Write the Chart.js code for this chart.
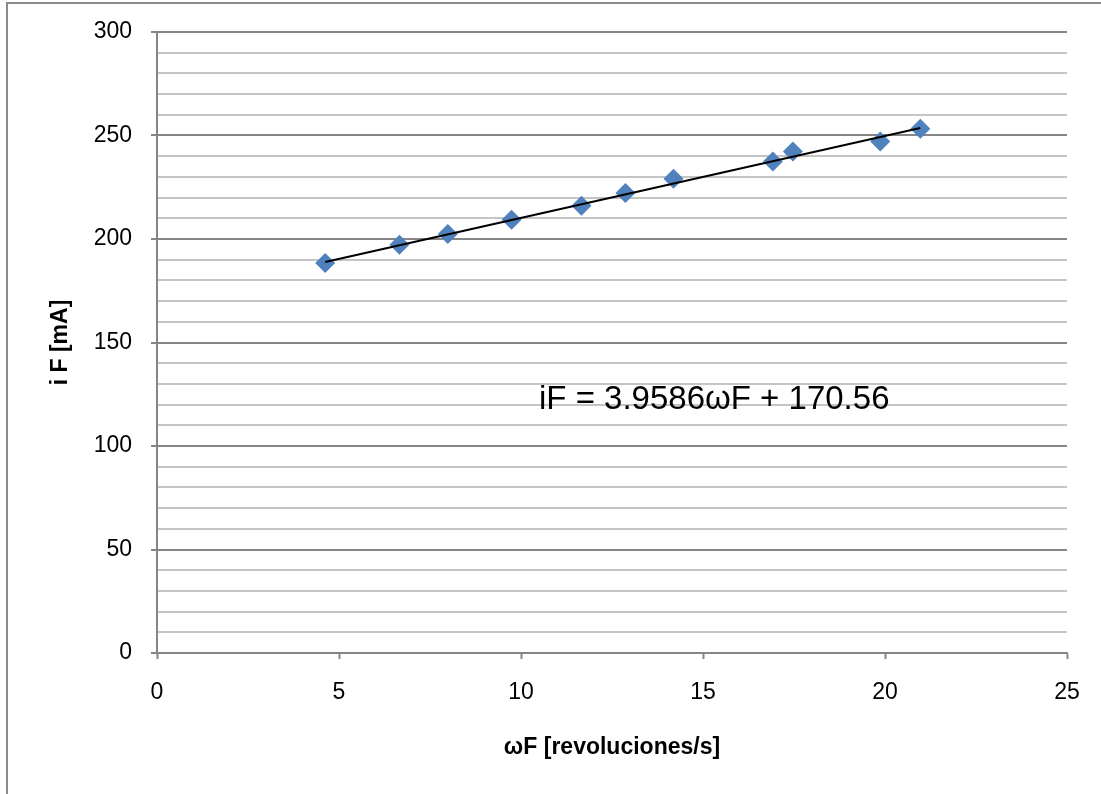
<!DOCTYPE html>
<html>
<head>
<meta charset="utf-8">
<script src="https://cdn.jsdelivr.net/npm/chart.js@4"></script>
<style>
  body { margin: 0; background: #fff; }
  #wrap { width: 1101px; height: 794px; }
</style>
</head>
<body>
<div id="wrap"><canvas id="chart" width="1101" height="794"></canvas></div>
<script>
// measured points, wF [rev/s] vs iF [mA]
const wF = [4.62, 6.66, 7.99, 9.74, 11.66, 12.87, 14.19, 16.92, 17.47, 19.87, 20.97];
const iF = [188.4, 197.2, 202.4, 209.3, 216.1, 222.2, 229.1, 237.5, 242.3, 247.1, 253.3];

// linear trend line ends, as drawn
const trendX = [4.62, 20.97];
const trendY = [188.9, 253.6];

const equationText = 'iF = 3.9586ωF + 170.56';
const xTitle = 'ωF [revoluciones/s]';
const yTitle = 'i F [mA]';

const FONT = '"Liberation Sans", Arial, sans-serif';

const points = wF.map((x, i) => ({ x: x, y: iF[i] }));
const trend = trendX.map((x, i) => ({ x: x, y: trendY[i] }));

const frame = {
    id: 'frame',
    afterDraw(chart) {
        const ctx = chart.ctx;
        ctx.save();
        // outer border (left and top)
        ctx.strokeStyle = '#8c8c8c';
        ctx.lineWidth = 2;
        ctx.beginPath();
        ctx.moveTo(7, 794);
        ctx.lineTo(7, 3);
        ctx.lineTo(1101, 3);
        ctx.stroke();
        // trend line equation
        ctx.fillStyle = '#000';
        ctx.font = '33px ' + FONT;
        ctx.textAlign = 'left';
        ctx.textBaseline = 'alphabetic';
        ctx.fillText(equationText, 539, 409);
        ctx.restore();
    }
};

new Chart(document.getElementById('chart'), {
    type: 'scatter',
    data: {
        datasets: [{
            label: 'iF',
            data: points,
            pointStyle: 'rectRot',
            pointRadius: 10,
            pointHoverRadius: 10,
            backgroundColor: '#4F81BD',
            borderColor: '#4F81BD',
            borderWidth: 0,
            order: 2
        }, {
            label: 'trend',
            type: 'line',
            data: trend,
            borderColor: '#000',
            borderWidth: 2,
            pointRadius: 0,
            fill: false,
            order: 1
        }]
    },
    options: {
        responsive: false,
        animation: false,
        layout: { padding: { left: 0, top: 32, right: 34, bottom: 0 } },
        plugins: {
            legend: { display: false },
            tooltip: { enabled: false }
        },
        scales: {
            x: {
                type: 'linear',
                min: 0,
                max: 25,
                afterFit(scale) {
                    scale.height = 141;
                    scale.paddingLeft = 0;
                    scale.paddingRight = 0;
                },
                ticks: {
                    stepSize: 5,
                    padding: 20,
                    color: '#000',
                    font: { family: FONT, size: 23 }
                },
                grid: {
                    drawOnChartArea: false,
                    drawTicks: true,
                    tickLength: 6,
                    tickColor: '#868686',
                    tickWidth: 2
                },
                border: { display: true, color: '#868686', width: 2 },
                title: {
                    display: true,
                    text: xTitle,
                    color: '#000',
                    font: { family: FONT, size: 23, weight: 'bold' },
                    padding: { top: 0, bottom: 33 }
                }
            },
            y: {
                min: 0,
                max: 300,
                afterFit(scale) {
                    scale.width = 157;
                    scale.paddingTop = 0;
                    scale.paddingBottom = 0;
                },
                ticks: {
                    stepSize: 10,
                    autoSkip: false,
                    padding: 19,
                    color: '#000',
                    font: { family: FONT, size: 23 },
                    callback: v => (v % 50 === 0 ? v : '')
                },
                grid: {
                    color: c => (c.tick && c.tick.value % 50 === 0 ? '#868686' : '#c4c4c4'),
                    lineWidth: 2,
                    tickLength: 6,
                    tickColor: c => (c.tick && c.tick.value % 50 === 0 ? '#868686' : 'rgba(0,0,0,0)'),
                    tickWidth: 2
                },
                border: { display: true, color: '#868686', width: 2 },
                title: {
                    display: true,
                    text: yTitle,
                    color: '#000',
                    font: { family: FONT, size: 23, weight: 'bold' },
                    padding: { top: 47, bottom: 0 }
                }
            }
        }
    },
    plugins: [frame]
});
</script>
</body>
</html>
